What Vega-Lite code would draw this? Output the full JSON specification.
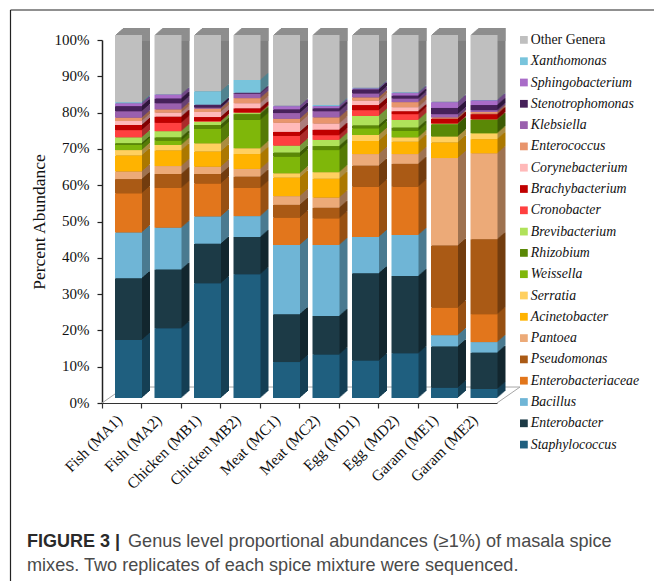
{"$schema":"https://vega.github.io/schema/vega-lite/v6.json","width":395,"height":363,"autosize":{"type":"none"},"padding":{"left":102,"top":40,"right":157,"bottom":178},"background":"white","config":{"view":{"stroke":null},"font":"Liberation Serif"},
"datasets":{"abund":[
{"s":"Fish (MA1)","g":"Staphylococcus","r":1,"v":16},{"s":"Fish (MA1)","g":"Enterobacter","r":2,"v":17},{"s":"Fish (MA1)","g":"Bacillus","r":3,"v":12.6},{"s":"Fish (MA1)","g":"Enterobacteriaceae","r":4,"v":10.8},{"s":"Fish (MA1)","g":"Pseudomonas","r":5,"v":3.9},{"s":"Fish (MA1)","g":"Pantoea","r":6,"v":2.1},{"s":"Fish (MA1)","g":"Acinetobacter","r":7,"v":4.4},{"s":"Fish (MA1)","g":"Serratia","r":8,"v":1.5},{"s":"Fish (MA1)","g":"Weissella","r":9,"v":1.4},{"s":"Fish (MA1)","g":"Rhizobium","r":10,"v":0.5},{"s":"Fish (MA1)","g":"Brevibacterium","r":11,"v":1.6},{"s":"Fish (MA1)","g":"Cronobacter","r":12,"v":2},{"s":"Fish (MA1)","g":"Brachybacterium","r":13,"v":1.4},{"s":"Fish (MA1)","g":"Corynebacterium","r":14,"v":1.1},{"s":"Fish (MA1)","g":"Enterococcus","r":15,"v":0.9},{"s":"Fish (MA1)","g":"Klebsiella","r":16,"v":1.8},{"s":"Fish (MA1)","g":"Stenotrophomonas","r":17,"v":1.4},{"s":"Fish (MA1)","g":"Sphingobacterium","r":18,"v":0.8},{"s":"Fish (MA1)","g":"Xanthomonas","r":19,"v":0.3},{"s":"Fish (MA1)","g":"Other Genera","r":20,"v":18.5},
{"s":"Fish (MA2)","g":"Staphylococcus","r":1,"v":19.2},{"s":"Fish (MA2)","g":"Enterobacter","r":2,"v":16.2},{"s":"Fish (MA2)","g":"Bacillus","r":3,"v":11.5},{"s":"Fish (MA2)","g":"Enterobacteriaceae","r":4,"v":10.95},{"s":"Fish (MA2)","g":"Pseudomonas","r":5,"v":3.85},{"s":"Fish (MA2)","g":"Pantoea","r":6,"v":2.2},{"s":"Fish (MA2)","g":"Acinetobacter","r":7,"v":4.3},{"s":"Fish (MA2)","g":"Serratia","r":8,"v":1.5},{"s":"Fish (MA2)","g":"Weissella","r":9,"v":1.2},{"s":"Fish (MA2)","g":"Rhizobium","r":10,"v":0.9},{"s":"Fish (MA2)","g":"Brevibacterium","r":11,"v":1.7},{"s":"Fish (MA2)","g":"Cronobacter","r":12,"v":2.3},{"s":"Fish (MA2)","g":"Brachybacterium","r":13,"v":1.7},{"s":"Fish (MA2)","g":"Corynebacterium","r":14,"v":1.1},{"s":"Fish (MA2)","g":"Enterococcus","r":15,"v":0.9},{"s":"Fish (MA2)","g":"Klebsiella","r":16,"v":1.7},{"s":"Fish (MA2)","g":"Stenotrophomonas","r":17,"v":1.3},{"s":"Fish (MA2)","g":"Sphingobacterium","r":18,"v":1.1},{"s":"Fish (MA2)","g":"Xanthomonas","r":19,"v":0.1},{"s":"Fish (MA2)","g":"Other Genera","r":20,"v":16.3},
{"s":"Chicken (MB1)","g":"Staphylococcus","r":1,"v":31.6},{"s":"Chicken (MB1)","g":"Enterobacter","r":2,"v":10.9},{"s":"Chicken (MB1)","g":"Bacillus","r":3,"v":7.5},{"s":"Chicken (MB1)","g":"Enterobacteriaceae","r":4,"v":9.1},{"s":"Chicken (MB1)","g":"Pseudomonas","r":5,"v":2.6},{"s":"Chicken (MB1)","g":"Pantoea","r":6,"v":2},{"s":"Chicken (MB1)","g":"Acinetobacter","r":7,"v":4.2},{"s":"Chicken (MB1)","g":"Serratia","r":8,"v":2.25},{"s":"Chicken (MB1)","g":"Weissella","r":9,"v":3.95},{"s":"Chicken (MB1)","g":"Rhizobium","r":10,"v":1.1},{"s":"Chicken (MB1)","g":"Brevibacterium","r":11,"v":0.9},{"s":"Chicken (MB1)","g":"Cronobacter","r":12,"v":0.2},{"s":"Chicken (MB1)","g":"Brachybacterium","r":13,"v":1.1},{"s":"Chicken (MB1)","g":"Corynebacterium","r":14,"v":1.4},{"s":"Chicken (MB1)","g":"Enterococcus","r":15,"v":0.9},{"s":"Chicken (MB1)","g":"Klebsiella","r":16,"v":0.3},{"s":"Chicken (MB1)","g":"Stenotrophomonas","r":17,"v":0.7},{"s":"Chicken (MB1)","g":"Sphingobacterium","r":18,"v":0.1},{"s":"Chicken (MB1)","g":"Xanthomonas","r":19,"v":3.7},{"s":"Chicken (MB1)","g":"Other Genera","r":20,"v":15.5},
{"s":"Chicken MB2)","g":"Staphylococcus","r":1,"v":34.1},{"s":"Chicken MB2)","g":"Enterobacter","r":2,"v":10.25},{"s":"Chicken MB2)","g":"Bacillus","r":3,"v":5.75},{"s":"Chicken MB2)","g":"Enterobacteriaceae","r":4,"v":7.75},{"s":"Chicken MB2)","g":"Pseudomonas","r":5,"v":3.12},{"s":"Chicken MB2)","g":"Pantoea","r":6,"v":2.13},{"s":"Chicken MB2)","g":"Acinetobacter","r":7,"v":4.1},{"s":"Chicken MB2)","g":"Serratia","r":8,"v":1.6},{"s":"Chicken MB2)","g":"Weissella","r":9,"v":7.8},{"s":"Chicken MB2)","g":"Rhizobium","r":10,"v":1.6},{"s":"Chicken MB2)","g":"Brevibacterium","r":11,"v":0.3},{"s":"Chicken MB2)","g":"Cronobacter","r":12,"v":0.2},{"s":"Chicken MB2)","g":"Brachybacterium","r":13,"v":1.1},{"s":"Chicken MB2)","g":"Corynebacterium","r":14,"v":1.4},{"s":"Chicken MB2)","g":"Enterococcus","r":15,"v":1.4},{"s":"Chicken MB2)","g":"Klebsiella","r":16,"v":1.2},{"s":"Chicken MB2)","g":"Stenotrophomonas","r":17,"v":0.2},{"s":"Chicken MB2)","g":"Sphingobacterium","r":18,"v":0.1},{"s":"Chicken MB2)","g":"Xanthomonas","r":19,"v":3.5},{"s":"Chicken MB2)","g":"Other Genera","r":20,"v":12.4},
{"s":"Meat (MC1)","g":"Staphylococcus","r":1,"v":9.9},{"s":"Meat (MC1)","g":"Enterobacter","r":2,"v":13.2},{"s":"Meat (MC1)","g":"Bacillus","r":3,"v":19.05},{"s":"Meat (MC1)","g":"Enterobacteriaceae","r":4,"v":7.55},{"s":"Meat (MC1)","g":"Pseudomonas","r":5,"v":3.5},{"s":"Meat (MC1)","g":"Pantoea","r":6,"v":2.4},{"s":"Meat (MC1)","g":"Acinetobacter","r":7,"v":5.1},{"s":"Meat (MC1)","g":"Serratia","r":8,"v":1.2},{"s":"Meat (MC1)","g":"Weissella","r":9,"v":4.6},{"s":"Meat (MC1)","g":"Rhizobium","r":10,"v":1.1},{"s":"Meat (MC1)","g":"Brevibacterium","r":11,"v":1.9},{"s":"Meat (MC1)","g":"Cronobacter","r":12,"v":2.7},{"s":"Meat (MC1)","g":"Brachybacterium","r":13,"v":1.1},{"s":"Meat (MC1)","g":"Corynebacterium","r":14,"v":2.5},{"s":"Meat (MC1)","g":"Enterococcus","r":15,"v":1.1},{"s":"Meat (MC1)","g":"Klebsiella","r":16,"v":1.6},{"s":"Meat (MC1)","g":"Stenotrophomonas","r":17,"v":1},{"s":"Meat (MC1)","g":"Sphingobacterium","r":18,"v":0.9},{"s":"Meat (MC1)","g":"Xanthomonas","r":19,"v":0.1},{"s":"Meat (MC1)","g":"Other Genera","r":20,"v":19.5},
{"s":"Meat (MC2)","g":"Staphylococcus","r":1,"v":12},{"s":"Meat (MC2)","g":"Enterobacter","r":2,"v":10.6},{"s":"Meat (MC2)","g":"Bacillus","r":3,"v":19.55},{"s":"Meat (MC2)","g":"Enterobacteriaceae","r":4,"v":7.35},{"s":"Meat (MC2)","g":"Pseudomonas","r":5,"v":2.9},{"s":"Meat (MC2)","g":"Pantoea","r":6,"v":2.8},{"s":"Meat (MC2)","g":"Acinetobacter","r":7,"v":5.2},{"s":"Meat (MC2)","g":"Serratia","r":8,"v":1.8},{"s":"Meat (MC2)","g":"Weissella","r":9,"v":6.1},{"s":"Meat (MC2)","g":"Rhizobium","r":10,"v":1.1},{"s":"Meat (MC2)","g":"Brevibacterium","r":11,"v":1.7},{"s":"Meat (MC2)","g":"Cronobacter","r":12,"v":1.3},{"s":"Meat (MC2)","g":"Brachybacterium","r":13,"v":1.5},{"s":"Meat (MC2)","g":"Corynebacterium","r":14,"v":1.7},{"s":"Meat (MC2)","g":"Enterococcus","r":15,"v":1.7},{"s":"Meat (MC2)","g":"Klebsiella","r":16,"v":1.7},{"s":"Meat (MC2)","g":"Stenotrophomonas","r":17,"v":0.8},{"s":"Meat (MC2)","g":"Sphingobacterium","r":18,"v":0.6},{"s":"Meat (MC2)","g":"Xanthomonas","r":19,"v":0.3},{"s":"Meat (MC2)","g":"Other Genera","r":20,"v":19.3},
{"s":"Egg (MD1)","g":"Staphylococcus","r":1,"v":10.3},{"s":"Egg (MD1)","g":"Enterobacter","r":2,"v":24.05},{"s":"Egg (MD1)","g":"Bacillus","r":3,"v":10},{"s":"Egg (MD1)","g":"Enterobacteriaceae","r":4,"v":13.85},{"s":"Egg (MD1)","g":"Pseudomonas","r":5,"v":5.8},{"s":"Egg (MD1)","g":"Pantoea","r":6,"v":3.2},{"s":"Egg (MD1)","g":"Acinetobacter","r":7,"v":3.6},{"s":"Egg (MD1)","g":"Serratia","r":8,"v":1.65},{"s":"Egg (MD1)","g":"Weissella","r":9,"v":1.85},{"s":"Egg (MD1)","g":"Rhizobium","r":10,"v":0.8},{"s":"Egg (MD1)","g":"Brevibacterium","r":11,"v":2.6},{"s":"Egg (MD1)","g":"Cronobacter","r":12,"v":1.6},{"s":"Egg (MD1)","g":"Brachybacterium","r":13,"v":1.4},{"s":"Egg (MD1)","g":"Corynebacterium","r":14,"v":1.2},{"s":"Egg (MD1)","g":"Enterococcus","r":15,"v":0.9},{"s":"Egg (MD1)","g":"Klebsiella","r":16,"v":1.1},{"s":"Egg (MD1)","g":"Stenotrophomonas","r":17,"v":1.1},{"s":"Egg (MD1)","g":"Sphingobacterium","r":18,"v":0.3},{"s":"Egg (MD1)","g":"Xanthomonas","r":19,"v":0.2},{"s":"Egg (MD1)","g":"Other Genera","r":20,"v":14.5},
{"s":"Egg (MD2)","g":"Staphylococcus","r":1,"v":12.3},{"s":"Egg (MD2)","g":"Enterobacter","r":2,"v":21.3},{"s":"Egg (MD2)","g":"Bacillus","r":3,"v":11.3},{"s":"Egg (MD2)","g":"Enterobacteriaceae","r":4,"v":13.3},{"s":"Egg (MD2)","g":"Pseudomonas","r":5,"v":6.3},{"s":"Egg (MD2)","g":"Pantoea","r":6,"v":2.7},{"s":"Egg (MD2)","g":"Acinetobacter","r":7,"v":3.4},{"s":"Egg (MD2)","g":"Serratia","r":8,"v":1.2},{"s":"Egg (MD2)","g":"Weissella","r":9,"v":1.8},{"s":"Egg (MD2)","g":"Rhizobium","r":10,"v":0.9},{"s":"Egg (MD2)","g":"Brevibacterium","r":11,"v":2.1},{"s":"Egg (MD2)","g":"Cronobacter","r":12,"v":1.6},{"s":"Egg (MD2)","g":"Brachybacterium","r":13,"v":0.8},{"s":"Egg (MD2)","g":"Corynebacterium","r":14,"v":1.1},{"s":"Egg (MD2)","g":"Enterococcus","r":15,"v":1.4},{"s":"Egg (MD2)","g":"Klebsiella","r":16,"v":1},{"s":"Egg (MD2)","g":"Stenotrophomonas","r":17,"v":0.8},{"s":"Egg (MD2)","g":"Sphingobacterium","r":18,"v":0.7},{"s":"Egg (MD2)","g":"Xanthomonas","r":19,"v":0.2},{"s":"Egg (MD2)","g":"Other Genera","r":20,"v":15.8},
{"s":"Garam (ME1)","g":"Staphylococcus","r":1,"v":2.85},{"s":"Garam (ME1)","g":"Enterobacter","r":2,"v":11.35},{"s":"Garam (ME1)","g":"Bacillus","r":3,"v":3.1},{"s":"Garam (ME1)","g":"Enterobacteriaceae","r":4,"v":7.6},{"s":"Garam (ME1)","g":"Pseudomonas","r":5,"v":17.1},{"s":"Garam (ME1)","g":"Pantoea","r":6,"v":24.1},{"s":"Garam (ME1)","g":"Acinetobacter","r":7,"v":4.3},{"s":"Garam (ME1)","g":"Serratia","r":8,"v":1.6},{"s":"Garam (ME1)","g":"Weissella","r":9,"v":0.1},{"s":"Garam (ME1)","g":"Rhizobium","r":10,"v":3.3},{"s":"Garam (ME1)","g":"Brevibacterium","r":11,"v":0.1},{"s":"Garam (ME1)","g":"Cronobacter","r":12,"v":0.2},{"s":"Garam (ME1)","g":"Brachybacterium","r":13,"v":1.2},{"s":"Garam (ME1)","g":"Corynebacterium","r":14,"v":0.1},{"s":"Garam (ME1)","g":"Enterococcus","r":15,"v":0.3},{"s":"Garam (ME1)","g":"Klebsiella","r":16,"v":0.9},{"s":"Garam (ME1)","g":"Stenotrophomonas","r":17,"v":1.7},{"s":"Garam (ME1)","g":"Sphingobacterium","r":18,"v":1.6},{"s":"Garam (ME1)","g":"Xanthomonas","r":19,"v":0.1},{"s":"Garam (ME1)","g":"Other Genera","r":20,"v":18.4},
{"s":"Garam (ME2)","g":"Staphylococcus","r":1,"v":2.5},{"s":"Garam (ME2)","g":"Enterobacter","r":2,"v":10},{"s":"Garam (ME2)","g":"Bacillus","r":3,"v":2.9},{"s":"Garam (ME2)","g":"Enterobacteriaceae","r":4,"v":7.7},{"s":"Garam (ME2)","g":"Pseudomonas","r":5,"v":20.6},{"s":"Garam (ME2)","g":"Pantoea","r":6,"v":23.7},{"s":"Garam (ME2)","g":"Acinetobacter","r":7,"v":3.9},{"s":"Garam (ME2)","g":"Serratia","r":8,"v":1.6},{"s":"Garam (ME2)","g":"Weissella","r":9,"v":0.1},{"s":"Garam (ME2)","g":"Rhizobium","r":10,"v":3.6},{"s":"Garam (ME2)","g":"Brevibacterium","r":11,"v":0.1},{"s":"Garam (ME2)","g":"Cronobacter","r":12,"v":0.1},{"s":"Garam (ME2)","g":"Brachybacterium","r":13,"v":1.4},{"s":"Garam (ME2)","g":"Corynebacterium","r":14,"v":0.1},{"s":"Garam (ME2)","g":"Enterococcus","r":15,"v":0.5},{"s":"Garam (ME2)","g":"Klebsiella","r":16,"v":0.5},{"s":"Garam (ME2)","g":"Stenotrophomonas","r":17,"v":1.4},{"s":"Garam (ME2)","g":"Sphingobacterium","r":18,"v":1.3},{"s":"Garam (ME2)","g":"Xanthomonas","r":19,"v":0.1},{"s":"Garam (ME2)","g":"Other Genera","r":20,"v":17.9}
]},
"data":{"name":"abund"},
"resolve":{"scale":{"fill":"independent"},"axis":{"x":"independent","y":"independent"}},
"layer":[
{"data":{"values":[{}]},"mark":{"type":"rule","color":"#222","strokeWidth":1.2},"encoding":{"x":{"value":-91.5},"x2":{"value":552},"y":{"value":-30}}},
{"data":{"values":[{}]},"mark":{"type":"rule","color":"#222","strokeWidth":1.2},"encoding":{"x":{"value":-91.5},"y":{"value":-30},"y2":{"value":541}}},
{"data":{"values":[{}]},"mark":{"type":"rule","color":"#a6a6a6","strokeWidth":1},"encoding":{"x":{"value":23},"x2":{"value":418},"y":{"datum":4.4,"scale":{"domain":[0,100],"nice":false},"axis":null}}},
{"data":{"values":[{}]},"mark":{"type":"rule","color":"#a6a6a6","strokeWidth":1},"encoding":{"x":{"value":0},"x2":{"value":23},"y":{"datum":0,"axis":null},"y2":{"datum":4.4}}},
{"data":{"values":[{}]},"mark":{"type":"rule","color":"#a6a6a6","strokeWidth":1},"encoding":{"x":{"value":395},"x2":{"value":418},"y":{"datum":0,"axis":null},"y2":{"datum":4.4}}},
{"encoding":{
"x":{"field":"s","type":"nominal","axis":null,"sort":null,"scale":{"paddingInner":0,"paddingOuter":0}},
"y":{"field":"v","type":"quantitative","stack":"zero","axis":null,"scale":{"domain":[0,100],"nice":false}},
"order":{"field":"r","type":"quantitative"},
"fill":{"field":"g","type":"nominal","legend":null,"scale":{"domain":["Other Genera","Xanthomonas","Sphingobacterium","Stenotrophomonas","Klebsiella","Enterococcus","Corynebacterium","Brachybacterium","Cronobacter","Brevibacterium","Rhizobium","Weissella","Serratia","Acinetobacter","Pantoea","Pseudomonas","Enterobacteriaceae","Bacillus","Enterobacter","Staphylococcus"],"range":["#808080","#50838f","#714886","#2f163c","#674074","#9b6449","#ab7c7c","#800000","#ab2b2b","#76973c","#3c5b04","#557b07","#ab8c40","#ab7800","#9e7250","#723c0e","#975013","#4a7a90","#12262e","#153f54"]}}},
"layer":[
{"mark":{"type":"bar","width":27,"xOffset":14.75,"yOffset":-12}},
{"mark":{"type":"bar","width":27,"xOffset":13.75,"yOffset":-11.125}},
{"mark":{"type":"bar","width":27,"xOffset":12.75,"yOffset":-10.25}},
{"mark":{"type":"bar","width":27,"xOffset":11.75,"yOffset":-9.375}},
{"mark":{"type":"bar","width":27,"xOffset":10.75,"yOffset":-8.5}},
{"mark":{"type":"bar","width":27,"xOffset":9.75,"yOffset":-7.625}},
{"mark":{"type":"bar","width":27,"xOffset":8.75,"yOffset":-6.75}},
{"mark":{"type":"bar","width":27,"xOffset":7.75,"yOffset":-5.875}}
]},
{"transform":[{"filter":"datum.g=='Other Genera'"}],
"encoding":{"x":{"field":"s","type":"nominal","axis":null,"sort":null},"y":{"datum":100,"axis":null},"y2":{"datum":99.75},"fill":{"value":"#8e8e8e"}},
"layer":[
{"mark":{"type":"bar","width":27,"xOffset":14.75,"yOffset":-12}},
{"mark":{"type":"bar","width":27,"xOffset":13.75,"yOffset":-11.125}},
{"mark":{"type":"bar","width":27,"xOffset":12.75,"yOffset":-10.25}},
{"mark":{"type":"bar","width":27,"xOffset":11.75,"yOffset":-9.375}},
{"mark":{"type":"bar","width":27,"xOffset":10.75,"yOffset":-8.5}},
{"mark":{"type":"bar","width":27,"xOffset":9.75,"yOffset":-7.625}},
{"mark":{"type":"bar","width":27,"xOffset":8.75,"yOffset":-6.75}},
{"mark":{"type":"bar","width":27,"xOffset":7.75,"yOffset":-5.875}}
]},
{"mark":{"type":"bar","width":27,"xOffset":6.75,"yOffset":-5},
"encoding":{
"x":{"field":"s","type":"nominal","sort":null,"title":null,"axis":{"labelAngle":-45,"labelAlign":"right","labelBaseline":"top","labelFont":"Liberation Serif","labelFontSize":15.5,"labelColor":"#111","labelOffset":-7,"domainColor":"#333","domainWidth":1.2,"tickColor":"#333","tickSize":5,"tickWidth":1.2,"bandPosition":0,"labelPadding":4,"labelOverlap":false}},
"y":{"field":"v","type":"quantitative","stack":"zero","title":"Percent Abundance","axis":{"values":[0,10,20,30,40,50,60,70,80,90,100],"labelExpr":"datum.value+'%'","labelFont":"Liberation Serif","labelFontSize":15,"labelColor":"#111","labelPadding":8,"labelOffset":-1,"titleFont":"Liberation Serif","titleFontSize":17.5,"titleFontWeight":"normal","titleColor":"#111","titlePadding":6,"domainColor":"#222","domainWidth":1.5,"tickColor":"#222","tickSize":5,"tickWidth":1.2,"grid":false}},
"order":{"field":"r","type":"quantitative"},
"fill":{"field":"g","type":"nominal","title":null,"scale":{"domain":["Other Genera","Xanthomonas","Sphingobacterium","Stenotrophomonas","Klebsiella","Enterococcus","Corynebacterium","Brachybacterium","Cronobacter","Brevibacterium","Rhizobium","Weissella","Serratia","Acinetobacter","Pantoea","Pseudomonas","Enterobacteriaceae","Bacillus","Enterobacter","Staphylococcus"],"range":["#bfbfbf","#78c4dc","#a96cc8","#46215a","#9a60ae","#e8956d","#ffb9b9","#c00000","#ff4040","#b0e25a","#5a8806","#7fb70a","#ffd060","#ffb300","#ecaa78","#aa5a15","#e2761c","#6fb5d6","#1c3a46","#1f5f7f"]},"legend":{"orient":"none","legendX":415,"legendY":-7,"symbolType":"square","symbolSize":60,"symbolStrokeWidth":0,"labelFont":"Liberation Serif","labelFontSize":13.8,"labelColor":"#111","labelOffset":0,"rowPadding":6.3,"labelLimit":200,"labelFontStyle":{"expr":"datum.label=='Other Genera'?'normal':'italic'"}}}
}},
{"data":{"values":[{}]},"mark":{"type":"text","text":"FIGURE 3 |","align":"left","font":"Liberation Sans","fontSize":18,"fontWeight":"bold","color":"#2a2a2a"},"encoding":{"x":{"value":-75},"y":{"value":502}}},
{"data":{"values":[{}]},"mark":{"type":"text","text":"Genus level proportional abundances (≥1%) of masala spice","align":"left","font":"Liberation Sans","fontSize":18.1,"color":"#4a4a4a"},"encoding":{"x":{"value":26},"y":{"value":502}}},
{"data":{"values":[{}]},"mark":{"type":"text","text":"mixes. Two replicates of each spice mixture were sequenced.","align":"left","font":"Liberation Sans","fontSize":18.1,"color":"#4a4a4a"},"encoding":{"x":{"value":-75},"y":{"value":526}}}
]}
